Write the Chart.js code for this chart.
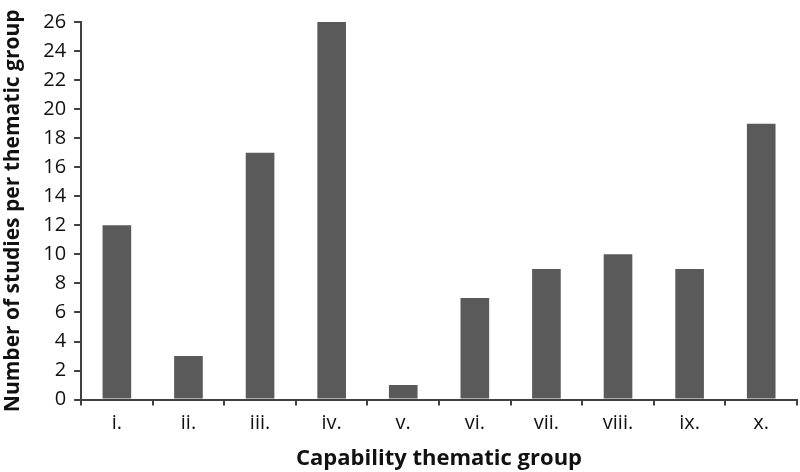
<!DOCTYPE html>
<html>
<head>
<meta charset="utf-8">
<script src="https://cdn.jsdelivr.net/npm/chart.js@4/dist/chart.umd.min.js"></script>
<style>
  html, body { margin: 0; padding: 0; background: #fff; }
  #wrap { width: 800px; height: 472px; }
</style>
</head>
<body>
<div id="wrap"><canvas id="chart" width="800" height="472"></canvas></div>
<script>
const groups = ['i.', 'ii.', 'iii.', 'iv.', 'v.', 'vi.', 'vii.', 'viii.', 'ix.', 'x.']
const studies = [12, 3, 17, 26, 1, 7, 9, 10, 9, 19]
const yMax = 26
const yStep = 2

const axisColor = '#404040'
const fontFamily = "'Open Sans', 'Noto Sans', sans-serif"

const ctx = document.getElementById('chart').getContext('2d')
new Chart(ctx, {
    type: 'bar',
    data: {
        labels: groups,
        datasets: [{
            label: 'Studies',
            data: studies,
            backgroundColor: '#5a5a5a',
            categoryPercentage: 0.4,
            barPercentage: 1.0
        }]
    },
    options: {
        responsive: false,
        animation: false,
        layout: { padding: { top: 22, right: 3, left: 0, bottom: 0 } },
        plugins: {
            legend: { display: false },
            tooltip: { enabled: false }
        },
        scales: {
            x: {
                grid: {
                    offset: true,
                    drawOnChartArea: false,
                    drawTicks: true,
                    tickLength: 6,
                    color: axisColor,
                    lineWidth: 2
                },
                border: { color: axisColor, width: 2 },
                ticks: { color: '#111', font: { family: fontFamily, size: 20 }, padding: 6 },
                title: {
                    display: true,
                    text: 'Capability thematic group',
                    color: '#111',
                    font: { family: fontFamily, size: 22, weight: 'bold' },
                    padding: { top: 4, bottom: 0 }
                }
            },
            y: {
                min: 0,
                max: yMax,
                grid: {
                    drawOnChartArea: false,
                    drawTicks: true,
                    tickLength: 7,
                    color: axisColor,
                    lineWidth: 2
                },
                border: { color: axisColor, width: 2 },
                ticks: {
                    stepSize: yStep,
                    color: '#111',
                    font: { family: fontFamily, size: 20 },
                    padding: 8
                },
                title: {
                    display: true,
                    text: 'Number of studies per thematic group',
                    color: '#111',
                    font: { family: fontFamily, size: 21, weight: 'bold' },
                    padding: { top: 0, bottom: 10 }
                }
            }
        }
    }
})
</script>
</body>
</html>
